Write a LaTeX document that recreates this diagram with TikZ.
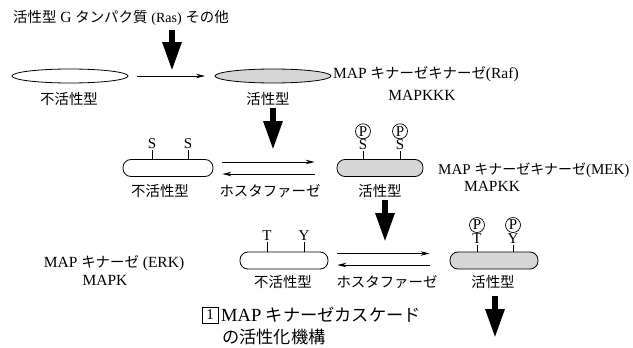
\documentclass[tikz,border=0pt]{standalone}
\usepackage{fontspec}
\setmainfont{Liberation Serif}
\newfontfamily\cjk[Scale=0.93]{Noto Sans CJK JP}
\newcommand\jtxt[1]{{\cjk #1}}
\usetikzlibrary{arrows.meta,shapes.geometric}
\begin{document}
\begin{tikzpicture}[x=1pt,y=-1pt,
  txt/.style={inner sep=0pt,font=\fontsize{15.5}{18}\selectfont},
  captxt/.style={inner sep=0pt,font=\fontsize{18.5}{21}\selectfont},
  lab/.style={inner sep=0pt,font=\fontsize{15}{17}\selectfont},
  ell/.style={ellipse,draw,line width=0.8pt,minimum width=116,minimum height=14,inner sep=0pt},
  rbox/.style={draw,line width=0.8pt,rounded corners=8pt,minimum width=90,minimum height=17,inner sep=0pt},
  shaded/.style={fill=black!16},
  bigarr/.style={line width=6pt,-{Triangle[length=29pt,width=18pt]}},
  thinarr/.style={line width=0.9pt,-{Stealth[length=9pt,width=4.5pt]}},
  pcirc/.style={circle,draw,line width=0.7pt,minimum size=15,inner sep=0pt,font=\fontsize{15}{17}\selectfont},
  tickline/.style={line width=0.7pt}
]
\useasboundingbox (0,0) rectangle (633,348);

% row 0
\node[txt] (ras) at (121,18) {\jtxt{活性型} G \jtxt{タンパク質} {\fontsize{14}{16}\selectfont(Ras)} \jtxt{その他}};
\coordinate (a1s) at (172,30);
\coordinate (a1e) at (172,71);
\draw[bigarr] (a1s) -- (a1e);

\node[ell] (e1) at (70,76) {};
\node[ell,shaded] (e2) at (273,76) {};
\draw[thinarr,shorten <=8.5pt,shorten >=9.5pt] (e1) -- (e2);
\node[txt] (l1) at (69,99) {\jtxt{不活性型}};
\node[txt] (l2) at (268,99) {\jtxt{活性型}};
\node[txt,anchor=west] (raf) at (333,74) {MAP \jtxt{キナーゼキナーゼ}(Raf)};
\node[txt] (mapkkk) at (422,95) {MAPKKK};

\coordinate (a2s) at (273,108);
\coordinate (a2e) at (273,150);
\draw[bigarr] (a2s) -- (a2e);

% row 1
\node[rbox] (r1) at (168,168) {};
\node[rbox,shaded,minimum width=86] (r2) at (380,168) {};
\draw[tickline] ([xshift=-16pt]r1.north) -- ++(0,-9) coordinate (t1a);
\draw[tickline] ([xshift=20pt]r1.north) -- ++(0,-9) coordinate (t1b);
\node[lab,anchor=south] (s1a) at ([yshift=1pt]t1a) {S};
\node[lab,anchor=south] (s1b) at ([yshift=1pt]t1b) {S};
\draw[tickline] ([xshift=-17pt]r2.north) -- ++(0,-8) coordinate (t2a);
\draw[tickline] ([xshift=20pt]r2.north) -- ++(0,-8) coordinate (t2b);
\node[lab,anchor=south] (s2a) at ([yshift=1pt]t2a) {S};
\node[lab,anchor=south] (s2b) at ([yshift=1pt]t2b) {S};
\node[pcirc,anchor=south] (p2a) at ([yshift=0.5pt]s2a.north) {P};
\node[pcirc,anchor=south] (p2b) at ([yshift=0.5pt]s2b.north) {P};

\draw[thinarr,shorten <=9pt,shorten >=22pt] ([yshift=6pt]r1.east) -- ([yshift=6pt]r2.west);
\draw[thinarr,shorten <=22pt,shorten >=9pt] ([yshift=-6pt]r2.west) -- ([yshift=-6pt]r1.east);

\node[txt] (l3) at (160,191) {\jtxt{不活性型}};
\node[txt] (ph1) at (270,191) {\jtxt{ホスタファーゼ}};
\node[txt] (l4) at (380,191) {\jtxt{活性型}};
\node[txt,anchor=west,font=\fontsize{15}{18}\selectfont] (mek) at (438,170) {MAP \jtxt{キナーゼキナーゼ}(MEK)};
\node[txt] (mapkk) at (492,186) {MAPKK};

\coordinate (a3s) at (385,200);
\coordinate (a3e) at (385,242);
\draw[bigarr] (a3s) -- (a3e);

% row 2
\node[txt] (erk) at (114,263) {MAP \jtxt{キナーゼ} (ERK)};
\node[txt] (mapk) at (105,280) {MAPK};

\node[rbox,minimum width=88] (r3) at (284,260.5) {};
\node[rbox,shaded,minimum width=88] (r4) at (494,260.5) {};
\draw[tickline] ([xshift=-17pt]r3.north) -- ++(0,-10) coordinate (t3a);
\draw[tickline] ([xshift=20pt]r3.north) -- ++(0,-10) coordinate (t3b);
\node[lab,anchor=south] (ty3a) at ([yshift=1pt]t3a) {T};
\node[lab,anchor=south] (ty3b) at ([yshift=1pt]t3b) {Y};
\draw[tickline] ([xshift=-17pt]r4.north) -- ++(0,-7) coordinate (t4a);
\draw[tickline] ([xshift=19pt]r4.north) -- ++(0,-7) coordinate (t4b);
\node[lab,anchor=south] (ty4a) at ([yshift=0.5pt]t4a) {T};
\node[lab,anchor=south] (ty4b) at ([yshift=0.5pt]t4b) {Y};
\node[pcirc,anchor=south] (p4a) at ([yshift=1pt]ty4a.north) {P};
\node[pcirc,anchor=south] (p4b) at ([yshift=1pt]ty4b.north) {P};

\draw[thinarr,shorten <=9pt,shorten >=20pt] ([yshift=7pt]r3.east) -- ([yshift=7pt]r4.west);
\draw[thinarr,shorten <=20pt,shorten >=9pt] ([yshift=-4.5pt]r4.west) -- ([yshift=-4.5pt]r3.east);

\node[txt] (l5) at (283,282) {\jtxt{不活性型}};
\node[txt] (ph2) at (387,282) {\jtxt{ホスタファーゼ}};
\node[txt] (l6) at (493,282) {\jtxt{活性型}};

\coordinate (a4s) at (495,296);
\coordinate (a4e) at (495,338);
\draw[bigarr] (a4s) -- (a4e);

% caption
\node[draw,line width=0.8pt,minimum width=16,minimum height=16,inner sep=0pt,font=\fontsize{15}{17}\selectfont] (one) at (210,315) {1};
\node[captxt,anchor=west] (cap1) at (221,315) {MAP \jtxt{キナーゼカスケード}};
\node[captxt,anchor=west] (cap2) at (222,337) {\jtxt{の活性化機構}};
\end{tikzpicture}
\end{document}
